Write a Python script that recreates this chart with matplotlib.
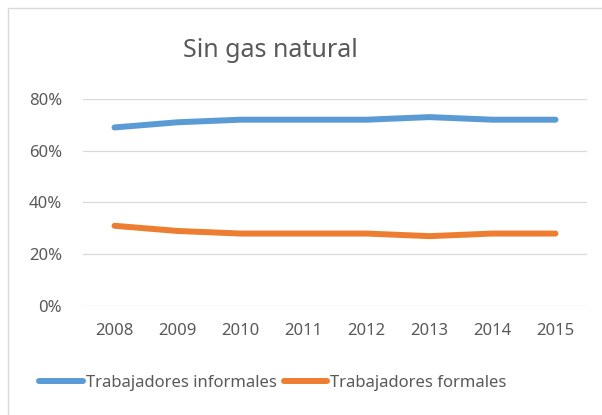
import matplotlib.pyplot as plt
from matplotlib.patches import Rectangle
from matplotlib.ticker import PercentFormatter

years = ['2008', '2009', '2010', '2011', '2012', '2013', '2014', '2015']
informales = [0.69, 0.71, 0.72, 0.72, 0.72, 0.73, 0.72, 0.72]
formales = [0.31, 0.29, 0.28, 0.28, 0.28, 0.27, 0.28, 0.28]
yticks = [0, 0.2, 0.4, 0.6, 0.8]

plt.rcParams['font.family'] = ['Noto Sans', 'DejaVu Sans']
txt_color = '#595959'
grid_color = '#D9D9D9'

fig = plt.figure(figsize=(6.02, 4.15), dpi=100)
fig.patches.append(Rectangle((8/602, -0.1), 1.2, 1 - 8/415 + 0.1, transform=fig.transFigure,
                             fill=False, edgecolor=grid_color, linewidth=1))

ax = fig.add_axes([83/602, 109/415, 504/602, 207/415])
x = range(len(years))
ax.plot(x, informales, color='#5B9BD5', linewidth=4.3, solid_capstyle='round',
        label='Trabajadores informales', clip_on=False)
ax.plot(x, formales, color='#ED7D31', linewidth=4.3, solid_capstyle='round',
        label='Trabajadores formales', clip_on=False)

ax.set_xlim(-0.5, len(years) - 0.5)
ax.set_ylim(0, 0.8)
ax.set_xticks(list(x))
ax.set_xticklabels(years)
ax.set_yticks(yticks)
ax.yaxis.set_major_formatter(PercentFormatter(1.0, decimals=0))
ax.tick_params(length=0, labelsize=12, labelcolor=txt_color)
ax.tick_params(axis='y', pad=15)
ax.tick_params(axis='x', pad=12)
ax.grid(axis='y', color=grid_color, linewidth=0.9)
ax.set_axisbelow(True)
for s in ax.spines.values():
    s.set_visible(False)

fig.text(270/602, 358/415, 'Sin gas natural', ha='center', va='baseline',
         fontsize=18, color=txt_color)

leg = fig.legend(loc='center', bbox_to_anchor=(273/602, 32/415), ncol=2, frameon=False,
                 fontsize=12, handlelength=2.6, handletextpad=0.2, columnspacing=0.4,
                 labelcolor=txt_color)

plt.savefig('out.png', dpi=100)
